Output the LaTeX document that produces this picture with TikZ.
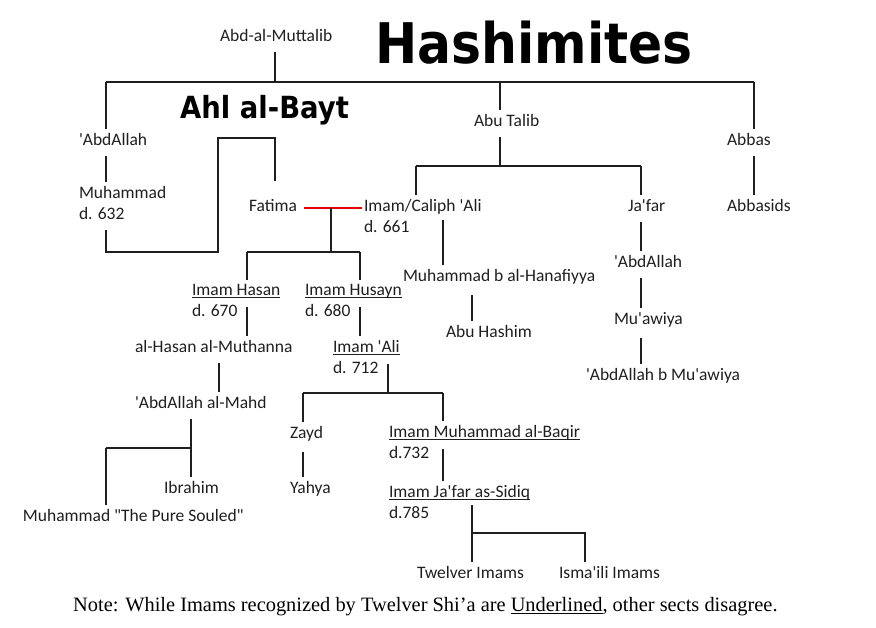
\documentclass[tikz,border=0pt]{standalone}
\usepackage{fontspec}
\setmainfont{Carlito}[Ligatures=TeXOff]
\newfontfamily\notefont{Liberation Serif}
\newfontfamily\titlefont[FakeStretch=0.9]{DejaVu Sans}
\usetikzlibrary{positioning}
\newcommand\imamul[1]{\setbox0\hbox{#1}\rlap{\rule[-2.6pt]{\wd0}{1.1pt}}\box0}

\begin{document}
\begin{tikzpicture}[x=1pt, y=-1pt,
    person/.style={font=\fontsize{17.5}{21}\selectfont, text=black!88, inner sep=0pt,
        outer xsep=2pt, outer ysep=4pt, anchor=north west, align=left},
    link/.style={line width=1.8pt, black!88},
    offnode/.style={shorten <=7pt},
    wedlock/.style={line width=1.8pt, red!90!black}]
    \useasboundingbox (0,0) rectangle (876,627);
    % titles
    \node[font=\titlefont\bfseries\fontsize{56}{60}\selectfont, anchor=base west, inner sep=0pt] (hashimites) at (375,63) {Hashimites};
    \node[font=\titlefont\bfseries\fontsize{30.5}{33}\selectfont, anchor=base west, inner sep=0pt] (ahlbayt) at (180,118) {Ahl al-Bayt};
    % people
    \node[person] (muttalib) at (218,25) {Abd-al-Muttalib};
    \node[person] (abdallah) at (77,129) {'AbdAllah};
    \node[person] (muhammad) at (77,182) {Muhammad\\d. 632};
    \node[person] (fatima) at (247,195) {Fatima};
    \node[person] (abutalib) at (472,110) {Abu Talib};
    \node[person] (ali) at (362,195) {Imam/Caliph 'Ali\\d. 661};
    \node[person] (jafar) at (626,195) {Ja'far};
    \node[person] (abbas) at (725,129) {Abbas};
    \node[person] (abbasids) at (725,195) {Abbasids};
    \node[person] (hanafiyya) at (401,265) {Muhammad b al-Hanafiyya};
    \node[person] (abuhashim) at (444,321) {Abu Hashim};
    \node[person] (abdallahj) at (612,251) {'AbdAllah};
    \node[person] (muawiya) at (612,308) {Mu'awiya};
    \node[person] (abdallahm) at (584,364) {'AbdAllah b Mu'awiya};
    \node[person] (hasan) at (190,280) {\imamul{Imam Hasan}\\d. 670};
    \node[person] (husayn) at (303,280) {\imamul{Imam Husayn}\\d. 680};
    \node[person] (muthanna) at (133,336) {al-Hasan al-Muthanna};
    \node[person] (mahd) at (133,392) {'AbdAllah al-Mahd};
    \node[person] (ibrahim) at (162,477) {Ibrahim};
    \node[person] (pure) at (21,505) {Muhammad "The Pure Souled"};
    \node[person] (imamali) at (331,336) {\imamul{Imam 'Ali}\\d. 712};
    \node[person] (zayd) at (288,422) {Zayd};
    \node[person] (yahya) at (288,477) {Yahya};
    \node[person] (baqir) at (387,421) {\imamul{Imam Muhammad al-Baqir}\\d.732};
    \node[person] (sadiq) at (387,481) {\imamul{Imam Ja'far as-Sidiq}\\d.785};
    \node[person] (twelver) at (415,562) {Twelver Imams};
    \node[person] (ismaili) at (557,562) {Isma'ili Imams};
    % note
    \node[font=\notefont\fontsize{20.4}{23}\selectfont, anchor=base west, inner sep=0pt] (note) at (73,611)
        {Note: While Imams recognized by Twelver Shi’a are \imamul{Underlined}, other sects disagree.};

    % Abd-al-Muttalib and his sons
    \coordinate (top) at (275,82);
    \coordinate (topL) at (106,82);
    \coordinate (topM) at (500,82);
    \coordinate (topR) at (754,82);
    \draw[link, offnode] (muttalib.south -| top) -- (top);
    \draw[link] (topL) -- (topR);
    \draw[link] (topL) -- (topL |- abdallah.north);
    \draw[link] (topM) -- (topM |- abutalib.north);
    \draw[link] (topR) -- (topR |- abbas.north);
    \draw[link, offnode] (topL |- abdallah.south) -- (topL |- muhammad.north);
    \draw[link, offnode] (topR |- abbas.south) -- (topR |- abbasids.north);
    % Muhammad to Fatima
    \coordinate (frameBL) at (106,252);
    \coordinate (frameBR) at (218,252);
    \coordinate (frameTL) at (218,138);
    \coordinate (frameTR) at (275,138);
    \draw[link, offnode, shorten >=14pt] (topL |- muhammad.south) -- (frameBL) -- (frameBR) -- (frameTL) -- (frameTR) -- (frameTR |- fatima.north);
    % Abu Talib
    \coordinate (tal) at (500,166);
    \coordinate (talL) at (416,166);
    \coordinate (talR) at (641,166);
    \draw[link, offnode] (abutalib.south -| tal) -- (tal);
    \draw[link] (talL) -- (talR);
    \draw[link] (talL) -- (talL |- ali.north);
    \draw[link] (talR) -- (talR |- jafar.north);
    \draw[link, offnode] (talR |- jafar.south) -- (talR |- abdallahj.north);
    \draw[link, offnode] (talR |- abdallahj.south) -- (talR |- muawiya.north);
    \draw[link, offnode] (talR |- muawiya.south) -- (talR |- abdallahm.north);
    % 'Ali's line
    \coordinate (hanX) at (443,220);
    \coordinate (hashX) at (472,0);
    \draw[link] (hanX) -- (hanX |- hanafiyya.north);
    \draw[link, offnode] (hashX |- hanafiyya.south) -- (hashX |- abuhashim.north);
    \coordinate (wed) at (331,208);
    \coordinate (kids) at (331,252);
    \coordinate (kidsL) at (247,252);
    \coordinate (kidsR) at (360,252);
    \draw[wedlock, shorten <=5pt] (wed -| fatima.east) -- (wed -| ali.west);
    \draw[link] (wed) -- (kids);
    \draw[link] (kidsL) -- (kidsR);
    \draw[link] (kidsL) -- (kidsL |- hasan.north);
    \draw[link] (kidsR) -- (kidsR |- husayn.north);
    % Hasan
    \coordinate (hasanX) at (247,307);
    \coordinate (muthX) at (219,0);
    \coordinate (mahdX) at (191,448);
    \coordinate (mahdL) at (106,448);
    \draw[link] (hasanX) -- (hasanX |- muthanna.north);
    \draw[link, offnode] (muthX |- muthanna.south) -- (muthX |- mahd.north);
    \draw[link, offnode] (mahdX |- mahd.south) -- (mahdX |- ibrahim.north);
    \draw[link] (mahdL) -- (mahdX);
    \draw[link] (mahdL) -- (mahdL |- pure.north);
    % Husayn
    \coordinate (husX) at (360,307);
    \coordinate (aliX) at (388,364);
    \coordinate (aliJ) at (388,393);
    \coordinate (aliL) at (303,393);
    \coordinate (aliR) at (443,393);
    \draw[link] (husX) -- (husX |- imamali.north);
    \draw[link] (aliX) -- (aliJ);
    \draw[link] (aliL) -- (aliR);
    \draw[link] (aliL) -- (aliL |- zayd.north);
    \draw[link] (aliR) -- (aliR |- baqir.north);
    \draw[link, offnode] (aliL |- zayd.south) -- (aliL |- yahya.north);
    \coordinate (baqX) at (443,449);
    \coordinate (sadX) at (472,505);
    \coordinate (sadJ) at (472,533);
    \coordinate (sadR) at (585,533);
    \draw[link] (baqX) -- (baqX |- sadiq.north);
    \draw[link] (sadX) -- (sadX |- twelver.north);
    \draw[link] (sadJ) -- (sadR) -- (sadR |- ismaili.north);
\end{tikzpicture}
\end{document}
